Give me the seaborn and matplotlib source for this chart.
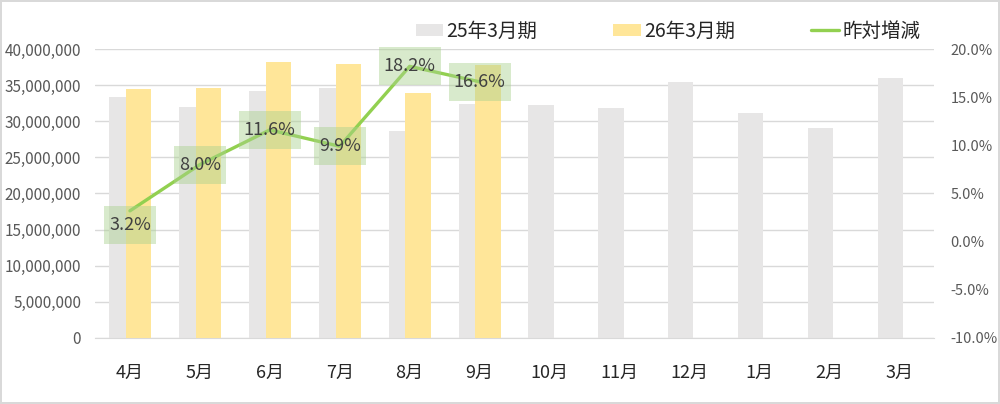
import matplotlib
matplotlib.use("Agg")
import matplotlib.pyplot as plt
import matplotlib.ticker as mticker
from matplotlib.patches import Patch
from matplotlib.lines import Line2D
from matplotlib.path import Path as MPath
import seaborn as sns
import pandas as pd
import numpy as np

months = ["4月", "5月", "6月", "7月", "8月", "9月",
          "10月", "11月", "12月", "1月", "2月", "3月"]
prev_year = [33400000, 32000000, 34200000, 34550000, 28650000, 32400000,
             32250000, 31830000, 35470000, 31140000, 29100000, 36030000]
this_year = [34500000, 34600000, 38200000, 37960000, 33870000, 37800000]
yoy_pct = [3.2, 8.0, 11.6, 9.9, 18.2, 16.6]

PREV_LABEL = "25年3月期"
THIS_LABEL = "26年3月期"
LINE_LABEL = "昨対増減"

GRAY = "#e7e6e6"
YELLOW = "#ffe699"
GREEN = "#92d050"

sns.set_style("white")
plt.rcParams["font.family"] = ["Noto Sans CJK JP", "DejaVu Sans"]


def label_box(x0, y0, width, height, mutation_size):
    # wider vertical padding than horizontal, like Excel data label fills
    px, py = 0.28 * mutation_size, 0.55 * mutation_size
    x0, y0 = x0 - px, y0 - py
    x1, y1 = x0 + width + 2 * px, y0 + height + 2 * py
    return MPath([(x0, y0), (x1, y0), (x1, y1), (x0, y1), (x0, y0)], closed=True)


idx = np.arange(len(months))
bar_w = 0.36
shift = 0.12

prev_df = pd.DataFrame({"x": idx - shift, "v": prev_year})
this_df = pd.DataFrame({"x": idx[:len(this_year)] + shift, "v": this_year})
line_df = pd.DataFrame({"x": idx[:len(yoy_pct)], "v": yoy_pct})

fig = plt.figure(figsize=(10, 4.04), dpi=100)
fig.patch.set_edgecolor("#d9d9d9")
fig.patch.set_linewidth(1.5)
ax = fig.add_axes([0.095, 0.1634, 0.839, 0.7153])

sns.barplot(data=prev_df, x="x", y="v", native_scale=True, width=bar_w,
            color=GRAY, saturation=1, linewidth=0, ax=ax, zorder=2)
sns.barplot(data=this_df, x="x", y="v", native_scale=True, width=bar_w,
            color=YELLOW, saturation=1, linewidth=0, ax=ax, zorder=3)

ax.set_xlim(-0.5, len(months) - 0.5)
ax.set_ylim(0, 40000000)
ax.yaxis.set_major_locator(mticker.MultipleLocator(5000000))
ax.yaxis.set_major_formatter(mticker.FuncFormatter(lambda v, p: f"{int(v):,}"))
ax.set_xticks(idx)
ax.set_xticklabels(months)
ax.grid(axis="y", color="#d9d9d9", linewidth=1, zorder=0)
ax.set_axisbelow(True)
for s in ["top", "right", "left"]:
    ax.spines[s].set_visible(False)
ax.spines["bottom"].set_color("#d9d9d9")
ax.tick_params(axis="x", length=0, pad=19, labelsize=13, labelcolor="#262626")
ax.tick_params(axis="y", length=0, pad=10, labelsize=11, labelcolor="#595959")
ax.set_xlabel("")
ax.set_ylabel("")

ax2 = ax.twinx()
sns.lineplot(data=line_df, x="x", y="v", color=GREEN, linewidth=2.4, ax=ax2)
ax2.set_ylim(-10, 20)
ax2.yaxis.set_major_locator(mticker.MultipleLocator(5))
ax2.yaxis.set_major_formatter(mticker.FuncFormatter(lambda v, p: f"{v:.1f}%"))
ax2.tick_params(axis="y", length=0, pad=12, labelsize=10.5, labelcolor="#595959")
for s in ax2.spines.values():
    s.set_visible(False)
ax2.set_xlabel("")
ax2.set_ylabel("")

for i, (x, v) in enumerate(zip(line_df["x"], line_df["v"])):
    dy = -10 if i == 0 else 0
    ax2.annotate(f"{v:.1f}%", (x, v), xytext=(0, dy), textcoords="offset points",
                 ha="center", va="center", fontsize=13, color="#404040",
                 bbox=dict(boxstyle=label_box, facecolor="#a9d18e",
                           edgecolor="none", alpha=0.45), zorder=5)

handles = [Patch(facecolor=GRAY, edgecolor="none"),
           Patch(facecolor=YELLOW, edgecolor="none"),
           Line2D([], [], color=GREEN, linewidth=2.4)]
fig.legend(handles, [PREV_LABEL, THIS_LABEL, LINE_LABEL], loc="center",
           bbox_to_anchor=(0.668, 0.923), ncol=3, frameon=False, fontsize=14,
           handlelength=1.4, handleheight=0.55, handletextpad=0.2,
           columnspacing=3.9, labelcolor="#262626")

fig.savefig("out.png", dpi=100)
